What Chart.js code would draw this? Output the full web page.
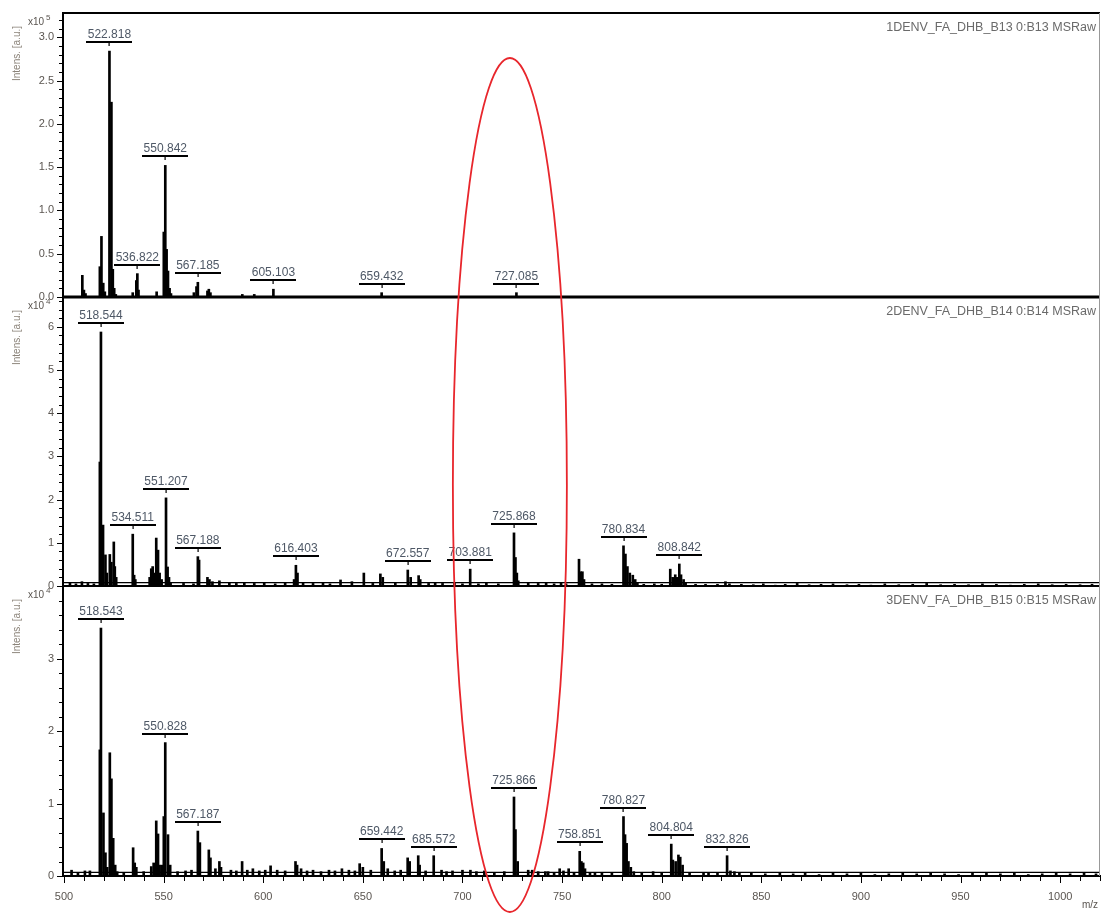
<!DOCTYPE html>
<html><head><meta charset="utf-8">
<script src="https://cdn.jsdelivr.net/npm/chart.js@4/dist/chart.umd.min.js"></script>
<style>html,body{margin:0;padding:0;background:#fff;}canvas{display:block;}</style>
</head><body>
<canvas id="c" width="1106" height="914"></canvas>
<script>
const FONT = 'Liberation Sans, Arial, sans-serif';
const xMin = 499.5, xMax = 1020;
const panelTitles = ['1DENV_FA_DHB_B13 0:B13 MSRaw', '2DENV_FA_DHB_B14 0:B14 MSRaw', '3DENV_FA_DHB_B15 0:B15 MSRaw'];
const yTitle = 'Intens. [a.u.]';
const yExp = ['5', '4', '4'];
const yMax = [3.28, 6.69, 4.0];
const yMajor = [0.5, 1, 1];
const yMinor = [0.1, 0.2, 0.2];
const yDec = [1, 0, 0];
const yLabelTop = [3.0, 6, 3];
const floorLevel = [0, 0.08, 0.05];
const panelWeight = [284, 289, 290];

// Panel 1 (x10^5)
const mz1 = [
509.2, 510.0, 510.8, 518.0, 518.8, 519.7, 520.5, 522.818, 523.8, 524.5,
525.2, 526.0, 534.5, 536.3, 536.822, 537.4, 546.5, 550.1, 550.842, 551.5,
552.2, 553.0, 553.7, 565.2, 566.5, 567.185, 572.0, 572.7, 573.5, 589.5,
595.5, 605.103, 659.432, 727.085];
const int1 = [
0.25, 0.08, 0.04, 0.35, 0.70, 0.16, 0.06, 2.84, 2.25, 0.32,
0.10, 0.03, 0.05, 0.19, 0.27, 0.08, 0.06, 0.75, 1.52, 0.55,
0.30, 0.10, 0.04, 0.05, 0.12, 0.17, 0.07, 0.09, 0.05, 0.03,
0.03, 0.09, 0.05, 0.05];
const lab1 = ['522.818', '550.842', '536.822', '567.185', '605.103', '659.432', '727.085'];

// Panel 2 (x10^4)
const mz2 = [
503.0, 506.0, 509.0, 512.0, 515.0, 518.0, 518.544, 519.6, 520.8, 521.5,
523.0, 523.8, 525.0, 525.5, 526.2, 534.511, 535.2, 535.8, 543.0, 543.8,
544.5, 545.5, 546.3, 547.2, 548.0, 549.0, 551.207, 552.0, 552.7, 553.5,
560.0, 565.0, 567.188, 567.8, 572.0, 573.0, 574.5, 578.0, 583.0, 586.5,
590.5, 595.5, 600.5, 606.0, 611.0, 615.5, 616.403, 617.2, 620.0, 625.0,
630.0, 633.5, 638.8, 644.5, 650.5, 655.0, 658.8, 660.0, 666.3, 672.557,
674.0, 678.0, 678.8, 683.0, 686.3, 690.0, 696.0, 700.0, 703.881, 708.0,
712.0, 718.0, 725.868, 726.6, 727.3, 728.0, 733.0, 738.0, 742.0, 746.0,
749.5, 752.0, 758.5, 759.3, 760.2, 761.0, 765.0, 770.0, 775.0, 780.834,
781.8, 782.8, 784.0, 785.5, 786.7, 787.8, 791.0, 796.3, 800.0, 804.3,
805.5, 806.8, 807.6, 808.842, 809.7, 811.0, 812.0, 817.0, 822.0, 828.0,
832.0, 834.0, 840.0, 846.0, 851.0, 857.0, 862.0, 868.0, 874.0, 880.0,
886.0, 893.0, 899.0, 905.0, 912.0, 919.0, 926.0, 933.0, 940.0, 947.0,
954.0, 961.0, 968.0, 975.0, 982.0, 989.0, 996.0, 1003.0, 1010.0, 1016.0];
const int2 = [
0.08, 0.05, 0.10, 0.06, 0.05, 2.87, 5.88, 1.41, 0.72, 0.30,
0.73, 0.55, 1.02, 0.45, 0.20, 1.20, 0.25, 0.15, 0.20, 0.40,
0.45, 0.30, 1.11, 0.83, 0.30, 0.15, 2.04, 0.44, 0.20, 0.08,
0.06, 0.05, 0.68, 0.60, 0.20, 0.15, 0.10, 0.12, 0.08, 0.06,
0.08, 0.06, 0.07, 0.05, 0.08, 0.15, 0.48, 0.30, 0.08, 0.06,
0.07, 0.05, 0.14, 0.10, 0.30, 0.06, 0.28, 0.20, 0.08, 0.37,
0.20, 0.24, 0.15, 0.06, 0.08, 0.06, 0.07, 0.05, 0.39, 0.05,
0.08, 0.05, 1.23, 0.66, 0.30, 0.12, 0.08, 0.06, 0.08, 0.05,
0.08, 0.05, 0.62, 0.33, 0.33, 0.15, 0.05, 0.05, 0.04, 0.93,
0.74, 0.45, 0.30, 0.25, 0.15, 0.08, 0.04, 0.05, 0.04, 0.39,
0.20, 0.26, 0.20, 0.51, 0.26, 0.15, 0.08, 0.04, 0.04, 0.04,
0.10, 0.05, 0.04, 0.03, 0.05, 0.02, 0.04, 0.06, 0.03, 0.04,
0.05, 0.03, 0.04, 0.02, 0.05, 0.03, 0.04, 0.06, 0.03, 0.04,
0.03, 0.05, 0.04, 0.02, 0.04, 0.05, 0.03, 0.04, 0.03, 0.04];
const lab2 = ['518.544', '534.511', '551.207', '567.188', '616.403', '672.557', '703.881', '725.868', '780.834', '808.842'];

// Panel 3 (x10^4)
const mz3 = [
503.8, 507.0, 510.5, 513.0, 518.0, 518.543, 519.8, 520.8, 521.7, 523.0,
523.8, 524.7, 525.7, 526.7, 530.0, 534.7, 535.5, 536.3, 540.0, 543.8,
545.0, 546.3, 547.2, 548.0, 549.2, 550.1, 550.828, 552.2, 553.3, 557.0,
561.0, 564.0, 567.187, 568.2, 572.7, 573.5, 576.0, 578.0, 578.8, 583.8,
586.5, 589.4, 592.0, 594.8, 598.0, 601.0, 603.7, 607.0, 611.0, 616.2,
617.0, 619.0, 622.0, 625.0, 629.0, 633.0, 636.0, 639.5, 643.0, 646.0,
648.4, 650.0, 654.0, 659.442, 660.5, 662.5, 666.0, 669.0, 672.5, 673.5,
677.8, 678.5, 681.5, 685.572, 689.5, 692.0, 695.0, 700.0, 704.0, 707.0,
711.0, 716.0, 721.0, 725.866, 726.6, 727.7, 733.0, 735.0, 738.0, 741.6,
743.0, 746.0, 748.8, 750.7, 753.3, 756.0, 758.851, 759.7, 760.6, 761.5,
764.0, 766.5, 770.0, 775.0, 780.827, 781.6, 782.4, 783.3, 784.5, 786.0,
790.0, 795.7, 800.0, 804.804, 805.6, 807.0, 808.4, 809.3, 810.5, 814.0,
821.0, 823.5, 828.0, 832.826, 834.5, 836.5, 839.0, 845.0, 852.0, 859.3,
866.0, 872.0, 879.0, 886.0, 893.0, 900.0, 907.0, 914.0, 921.0, 928.0,
935.0, 942.0, 949.0, 956.0, 963.0, 970.0, 977.0, 984.0, 991.0, 998.0,
1005.0, 1012.0, 1018.0];
const int3 = [
0.08, 0.05, 0.07, 0.07, 1.74, 3.42, 0.87, 0.32, 0.12, 1.70,
1.34, 0.52, 0.15, 0.06, 0.05, 0.39, 0.18, 0.12, 0.06, 0.13,
0.18, 0.76, 0.58, 0.15, 0.15, 0.82, 1.84, 0.57, 0.15, 0.06,
0.07, 0.08, 0.62, 0.46, 0.36, 0.25, 0.10, 0.20, 0.12, 0.08,
0.07, 0.20, 0.08, 0.10, 0.07, 0.08, 0.14, 0.08, 0.07, 0.20,
0.15, 0.10, 0.07, 0.08, 0.06, 0.08, 0.07, 0.10, 0.08, 0.07,
0.17, 0.12, 0.08, 0.38, 0.20, 0.10, 0.07, 0.08, 0.25, 0.20,
0.28, 0.15, 0.07, 0.28, 0.08, 0.06, 0.07, 0.08, 0.08, 0.06,
0.07, 0.05, 0.06, 1.09, 0.64, 0.20, 0.08, 0.08, 0.06, 0.06,
0.06, 0.05, 0.10, 0.07, 0.10, 0.05, 0.34, 0.20, 0.18, 0.10,
0.05, 0.05, 0.04, 0.05, 0.82, 0.57, 0.45, 0.20, 0.12, 0.06,
0.04, 0.06, 0.04, 0.44, 0.22, 0.20, 0.29, 0.26, 0.15, 0.04,
0.04, 0.05, 0.04, 0.28, 0.07, 0.06, 0.05, 0.04, 0.03, 0.05,
0.03, 0.04, 0.02, 0.04, 0.03, 0.04, 0.02, 0.03, 0.04, 0.03,
0.04, 0.03, 0.02, 0.04, 0.05, 0.03, 0.04, 0.02, 0.03, 0.04,
0.03, 0.04, 0.03];
const lab3 = ['518.543', '550.828', '567.187', '659.442', '685.572', '725.866', '758.851', '780.827', '804.804', '832.826'];

// highlighted region (m/z centre of the red ellipse)
const highlightMz = 723.8;

const panels = [
  {id: 'y1', mz: mz1, v: int1, lab: lab1},
  {id: 'y2', mz: mz2, v: int2, lab: lab2},
  {id: 'y3', mz: mz3, v: int3, lab: lab3}
];

const datasets = [];
panels.forEach((p, k) => {
  datasets.push({
    type: 'bar', yAxisID: p.id,
    data: p.mz.map((m, i) => ({x: m, y: p.v[i]})),
    backgroundColor: '#000', borderWidth: 0, grouped: false, barThickness: 2
  });
  if (floorLevel[k] > 0) {
    datasets.push({
      type: 'line', yAxisID: p.id,
      data: [{x: xMin, y: floorLevel[k]}, {x: xMax, y: floorLevel[k]}],
      borderColor: '#000', borderWidth: 1.3, pointRadius: 0, fill: false
    });
  }
});

function yScale(k) {
  return {
    type: 'linear', position: 'left', stack: 'spec', stackWeight: panelWeight[k],
    min: 0, max: yMax[k],
    afterFit: s => { s.width = 63; },
    border: {display: true, color: '#000', width: 2},
    grid: {display: true, drawOnChartArea: false, drawTicks: true, tickLength: 6, color: 'rgba(0,0,0,0)'},
    ticks: {
      stepSize: yMinor[k], includeBounds: false, autoSkip: false, padding: 3,
      color: '#5a5550', font: {family: FONT, size: 11},
      callback: v => {
        const r = v / yMajor[k];
        if (Math.abs(r - Math.round(r)) > 1e-6 || v > yLabelTop[k] + 1e-6) return '';
        return v.toFixed(yDec[k]);
      }
    }
  };
}

const decor = {
  id: 'decor',
  afterDatasetsDraw(chart) {
    const {ctx, chartArea: ca, scales} = chart;
    const xs = scales.x;
    ctx.save();
    // panel frame lines
    ctx.fillStyle = '#000';
    ctx.fillRect(ca.left, ca.top - 1, ca.right - ca.left, 2);
    const b1 = scales.y1.getPixelForValue(0);
    ctx.fillRect(ca.left, b1 - 1.5, ca.right - ca.left, 3);
    const b2 = scales.y2.getPixelForValue(0);
    ctx.fillRect(ca.left, b2 - 1, ca.right - ca.left, 2);
    ctx.fillStyle = '#999';
    ctx.fillRect(ca.right - 1, ca.top, 1, ca.bottom - ca.top);

    // y ticks (major / minor)
    ctx.strokeStyle = '#000';
    ctx.lineWidth = 1;
    panels.forEach((p, k) => {
      const ys = scales[p.id];
      ys.ticks.forEach(t => {
        const y = Math.round(ys.getPixelForValue(t.value)) + 0.5;
        const r = t.value / yMajor[k];
        const major = Math.abs(r - Math.round(r)) < 1e-6;
        ctx.beginPath();
        ctx.moveTo(ca.left - 1, y);
        ctx.lineTo(ca.left - (major ? 6 : 4), y);
        ctx.stroke();
      });
    });
    // x ticks
    xs.ticks.forEach(t => {
      const x = Math.round(xs.getPixelForValue(t.value)) + 0.5;
      const major = t.value % 50 === 0;
      ctx.beginPath();
      ctx.moveTo(x, ca.bottom);
      ctx.lineTo(x, ca.bottom + (major ? 7 : 5));
      ctx.stroke();
    });

    // peak labels
    ctx.font = '12px ' + FONT;
    ctx.textAlign = 'center';
    ctx.textBaseline = 'alphabetic';
    panels.forEach(p => {
      const ys = scales[p.id];
      const base = ys.getPixelForValue(0);
      p.lab.forEach(txt => {
        const m = parseFloat(txt);
        const i = p.mz.indexOf(m);
        const val = p.v[i];
        const px = xs.getPixelForValue(m);
        const top = ys.getPixelForValue(val);
        const barY = Math.round(Math.min(top - 9, base - 13));
        ctx.fillStyle = '#000';
        ctx.fillRect(Math.round(px - 23), barY - 1, 46, 2);
        ctx.fillRect(Math.round(px) - 0.5, barY + 1, 1.2, 3);
        ctx.fillStyle = '#4e5866';
        ctx.fillText(txt, px, barY - 4);
      });
    });
    ctx.restore();
  },
  afterDraw(chart) {
    const {ctx, chartArea: ca, scales} = chart;
    ctx.save();
    panels.forEach((p, k) => {
      const ys = scales[p.id];
      const top = ys.top;
      // titles
      ctx.font = '12.5px ' + FONT;
      ctx.fillStyle = '#6a6a6a';
      ctx.textAlign = 'right';
      ctx.textBaseline = 'alphabetic';
      ctx.fillText(panelTitles[k], ca.right - 4, top + 18);
      // exponent
      ctx.fillStyle = '#5a5550';
      ctx.textAlign = 'left';
      ctx.font = '10px ' + FONT;
      ctx.fillText('x10', 28, top + 12);
      ctx.font = '8px ' + FONT;
      ctx.fillText(yExp[k], 46, top + 7);
      // axis title
      ctx.save();
      ctx.translate(17, top + 68);
      ctx.rotate(-Math.PI / 2);
      ctx.font = '10px ' + FONT;
      ctx.fillStyle = '#8a8278';
      ctx.textBaseline = 'middle';
      ctx.fillText(yTitle, 0, 0);
      ctx.restore();
    });
    // m/z
    ctx.font = '10px ' + FONT;
    ctx.fillStyle = '#5a5550';
    ctx.textAlign = 'right';
    ctx.fillText('m/z', ca.right - 2, ca.bottom + 32);
    // red ellipse
    const cx = scales.x.getPixelForValue(highlightMz);
    ctx.strokeStyle = '#e8262c';
    ctx.lineWidth = 1.8;
    ctx.beginPath();
    ctx.ellipse(cx, 485, 57, 427, 0, 0, Math.PI * 2);
    ctx.stroke();
    ctx.restore();
  }
};

new Chart(document.getElementById('c'), {
  type: 'bar',
  data: {datasets},
  options: {
    responsive: false, animation: false, devicePixelRatio: 1,
    layout: {padding: {top: 13, right: 2, left: 0, bottom: 0}},
    plugins: {legend: {display: false}, tooltip: {enabled: false}},
    scales: {
      x: {
        type: 'linear', min: xMin, max: xMax, offset: false,
        afterFit: s => { s.height = 38; },
        border: {display: true, color: '#000', width: 2},
        grid: {display: true, drawOnChartArea: false, offset: false, tickLength: 8, color: 'rgba(0,0,0,0)'},
        ticks: {
          stepSize: 10, includeBounds: false, autoSkip: false, maxRotation: 0, padding: 6,
          color: '#5a5550', font: {family: FONT, size: 11},
          callback: v => (v % 50 === 0 ? String(v) : '')
        }
      },
      y3: yScale(2),
      y2: yScale(1),
      y1: yScale(0)
    }
  },
  plugins: [decor]
});
</script>
</body></html>
